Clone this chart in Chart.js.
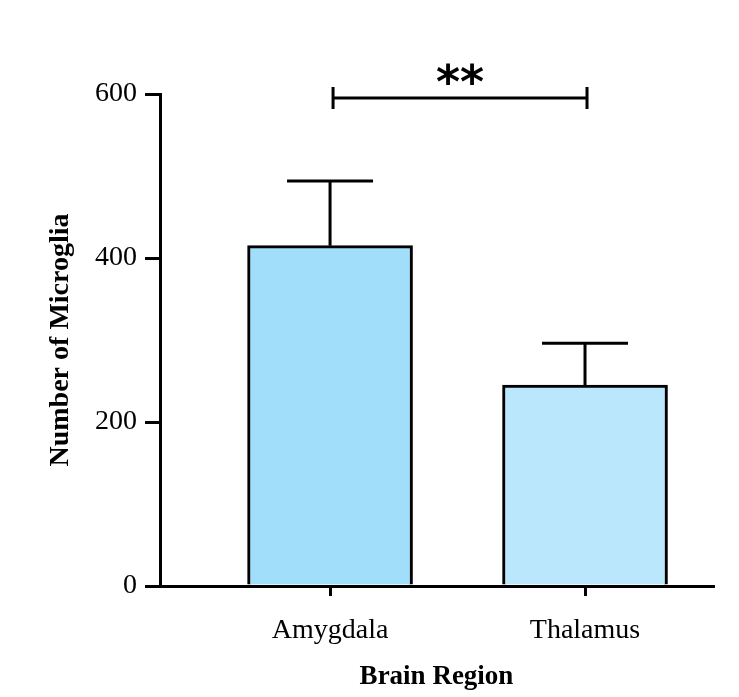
<!DOCTYPE html>
<html>
<head>
<meta charset="utf-8">
<script src="https://cdn.jsdelivr.net/npm/chart.js@4"></script>
<style>
	body { margin: 0; background: #fff; }
	#wrap { width: 739px; height: 697px; }
</style>
</head>
<body>
<div id="wrap"><canvas id="myChart"></canvas></div>
<script>
// data
var categories = ['Amygdala', 'Thalamus'];
var means = [415, 245];
var sds = [79, 51];
var barColors = ['rgb(161, 222, 250)', 'rgb(186, 231, 251)'];
var yTicks = [0, 200, 400, 600];
var sigPair = [0, 1];
var sigLevel = 595;
var sigText = '**';

var serif = 'Liberation Serif';

// error bars + significance bracket
var extras = {
	id: 'extras',
	afterDatasetsDraw(chart) {
		var ctx = chart.ctx;
		var xs = chart.scales.x;
		var ys = chart.scales.y;
		ctx.save();
		ctx.strokeStyle = '#000';
		ctx.lineWidth = 3;
		for (let i = 0; i < means.length; i++) {
			let cx = xs.getPixelForValue(i);
			let y0 = ys.getPixelForValue(means[i]);
			let y1 = ys.getPixelForValue(means[i] + sds[i]);
			ctx.beginPath();
			ctx.moveTo(cx, y0);
			ctx.lineTo(cx, y1);
			ctx.moveTo(cx - 43, y1);
			ctx.lineTo(cx + 43, y1);
			ctx.stroke();
		}
		let xa = xs.getPixelForValue(sigPair[0]) + 3;
		let xb = xs.getPixelForValue(sigPair[1]) + 2;
		let yb = ys.getPixelForValue(sigLevel);
		ctx.beginPath();
		ctx.moveTo(xa, yb);
		ctx.lineTo(xb, yb);
		ctx.moveTo(xa, yb - 11);
		ctx.lineTo(xa, yb + 11);
		ctx.moveTo(xb, yb - 11);
		ctx.lineTo(xb, yb + 11);
		ctx.stroke();
		ctx.fillStyle = '#000';
		ctx.font = 'bold 46px "DejaVu Sans"';
		ctx.textAlign = 'center';
		ctx.textBaseline = 'alphabetic';
		ctx.fillText(sigText, (xa + xb) / 2, yb);
		ctx.restore();
	}
};

const chartArea = document.getElementById('myChart').getContext('2d');
const myChart = new Chart(chartArea, {
	type: 'bar',
	data: {
		datasets: [{
			label: 'Number of Microglia',
			data: categories.map((c, i) => ({ x: i, y: means[i] })),
			backgroundColor: barColors,
			borderColor: '#000',
			borderWidth: 3,
			borderSkipped: 'bottom',
			barThickness: 165
		}]
	},
	options: {
		responsive: true,
		maintainAspectRatio: false,
		animation: false,
		layout: {
			padding: { top: 94, right: 26, left: 0, bottom: 0 }
		},
		plugins: {
			legend: { display: false },
			tooltip: { enabled: false }
		},
		scales: {
			x: {
				type: 'linear',
				offset: false,
				min: -0.667,
				max: 1.502,
				afterBuildTicks: (scale) => {
					scale.ticks = categories.map((c, i) => ({ value: i }));
				},
				afterFit: (scale) => { scale.height = 111; },
				ticks: {
					callback: (v) => categories[v],
					color: '#000',
					font: { family: serif, size: 28 },
					padding: 18,
					maxRotation: 0
				},
				grid: {
					offset: false,
					drawOnChartArea: false,
					color: '#000',
					lineWidth: 3,
					tickLength: 10
				},
				border: { color: '#000', width: 3 },
				title: {
					display: true,
					text: 'Brain Region',
					color: '#000',
					font: { family: serif, size: 27, weight: 'bold' },
					padding: { top: 0, bottom: 4 }
				}
			},
			y: {
				min: 0,
				max: 600,
				afterBuildTicks: (scale) => {
					scale.ticks = yTicks.map(v => ({ value: v }));
				},
				afterFit: (scale) => { scale.width = 160; },
				ticks: {
					color: '#000',
					font: { family: serif, size: 28 },
					padding: 8
				},
				grid: {
					drawOnChartArea: false,
					color: '#000',
					lineWidth: 3,
					tickLength: 15
				},
				border: { color: '#000', width: 3 },
				title: {
					display: true,
					text: 'Number of Microglia',
					color: '#000',
					font: { family: serif, size: 28, weight: 'bold' },
					padding: { top: 44, bottom: 0 }
				}
			}
		}
	},
	plugins: [extras]
});
</script>
</body>
</html>
